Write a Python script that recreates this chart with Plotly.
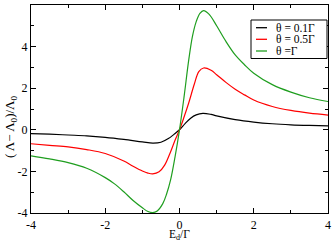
import plotly.graph_objects as go

# E_d / Gamma sample positions
x_black = [-4, -3.5, -3, -2.5, -2, -1.5, -1.0, -0.72, -0.5, -0.3, -0.15, 0, 0.15, 0.3, 0.45, 0.63, 0.85, 1.0, 1.5, 2, 2.5, 3, 3.5, 4]
y_black = [-0.18, -0.21, -0.25, -0.29, -0.36, -0.46, -0.58, -0.64, -0.60, -0.42, -0.22, 0.0, 0.30, 0.56, 0.72, 0.79, 0.74, 0.67, 0.49, 0.37, 0.29, 0.24, 0.21, 0.19]

x_red = [-4, -3.5, -3, -2.5, -2, -1.5, -1.25, -1.0, -0.85, -0.72, -0.55, -0.4, -0.25, -0.12, 0, 0.12, 0.25, 0.4, 0.52, 0.65, 0.85, 1.0, 1.25, 1.5, 1.75, 2, 2.5, 3, 3.5, 4]
y_red = [-0.67, -0.75, -0.82, -0.95, -1.14, -1.50, -1.75, -1.98, -2.08, -2.12, -2.02, -1.70, -1.10, -0.50, 0.0, 0.60, 1.30, 2.20, 2.80, 2.97, 2.86, 2.65, 2.28, 1.95, 1.68, 1.43, 1.12, 0.93, 0.80, 0.71]

x_green = [-4, -3.5, -3, -2.5, -2, -1.75, -1.5, -1.25, -1.0, -0.85, -0.72, -0.6, -0.45, -0.35, -0.24, -0.12, 0, 0.12, 0.25, 0.35, 0.45, 0.55, 0.65, 0.8, 1.0, 1.25, 1.5, 1.75, 2, 2.5, 3, 3.5, 4]
y_green = [-1.25, -1.40, -1.58, -1.85, -2.30, -2.60, -2.98, -3.40, -3.75, -3.93, -3.98, -3.90, -3.55, -3.10, -2.41, -1.30, 0.0, 1.55, 3.37, 4.50, 5.20, 5.60, 5.73, 5.55, 5.00, 4.25, 3.60, 3.13, 2.72, 2.17, 1.81, 1.54, 1.36]

series_names = ["θ = 0.1Γ", "θ = 0.5Γ", "θ =Γ"]
series_colors = ["#000000", "#ff0000", "#1f9e1f"]

x_ticks = [-4, -2, 0, 2, 4]
y_ticks = [-4, -2, 0, 2, 4, 6]

font_family = "Liberation Serif, Times New Roman, serif"

# layout geometry (pixels)
W, H = 332, 243
ML, MR, MT, MB = 31, 4, 5, 30
PW, PH = W - ML - MR, H - MT - MB


def px_x(p):
    return (p - ML) / PW


def px_y(p):
    return (H - MB - p) / PH


fig = go.Figure()
for xs, ys, name, col in zip([x_black, x_red, x_green], [y_black, y_red, y_green], series_names, series_colors):
    fig.add_trace(go.Scatter(x=xs, y=ys, mode="lines", name=name, showlegend=False, hoverinfo="skip",
                             line=dict(color=col, width=1.2, shape="spline", smoothing=1.0)))

axis_common = dict(
    showgrid=False, zeroline=False, showline=True, linecolor="black", linewidth=1.2,
    mirror="ticks", ticks="inside", ticklen=5, tickcolor="black", tickwidth=1,
    tickfont=dict(family=font_family, size=12, color="black"),
    minor=dict(ticks="inside", ticklen=3, tickcolor="black", dtick=1, showgrid=False),
    automargin=False,
)

fig.update_xaxes(range=[-4, 4], tickvals=x_ticks, ticktext=[str(v) for v in x_ticks], ticklabelstandoff=0, **axis_common)
fig.update_yaxes(range=[-4, 6], tickvals=y_ticks, ticktext=[str(v) for v in y_ticks], **axis_common)

# axis titles
fig.add_annotation(text="E<sub>d</sub>/Γ", xref="paper", yref="paper", x=0.5, y=px_y(235.3),
                   xanchor="center", yanchor="middle", showarrow=False,
                   font=dict(family=font_family, size=11.5, color="black"))
fig.add_annotation(text="( Λ− Λ<sub>0</sub>)/Λ<sub>0</sub>", xref="paper", yref="paper", x=px_x(10), y=px_y(127),
                   xanchor="center", yanchor="middle", showarrow=False, textangle=-90,
                   font=dict(family=font_family, size=13, color="black"))

# legend box, drawn manually to match the compact original
fig.add_shape(type="rect", xref="paper", yref="paper",
              x0=px_x(251), x1=px_x(327), y0=px_y(58.5), y1=px_y(20),
              line=dict(color="black", width=1), fillcolor="white", layer="above")
row_py = [27.7, 39.3, 51.0]
for name, col, py in zip(series_names, series_colors, row_py):
    fig.add_shape(type="line", xref="paper", yref="paper",
                  x0=px_x(256), x1=px_x(267), y0=px_y(py), y1=px_y(py),
                  line=dict(color=col, width=1.3), layer="above")
    fig.add_annotation(text=name, xref="paper", yref="paper", x=px_x(273.5), y=px_y(py),
                       xanchor="left", yanchor="middle", showarrow=False,
                       font=dict(family=font_family, size=11.5, color="black"))

fig.update_layout(
    width=W, height=H,
    margin=dict(l=ML, r=MR, t=MT, b=MB),
    paper_bgcolor="white", plot_bgcolor="white",
    showlegend=False,
    hovermode=False,
)

fig.write_html("out.html", config={"displayModeBar": False},
               post_script="document.body.style.margin='0';document.body.style.overflow='hidden';")
